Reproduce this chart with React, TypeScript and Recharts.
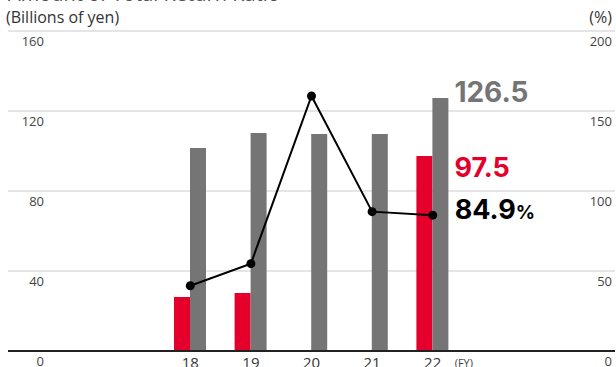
import { ComposedChart, Bar, Line, XAxis, YAxis, CartesianGrid, LabelList } from 'recharts';

const years = ['18', '19', '20', '21', '22'];
const dividends = [27, 29, null, null, 97.5];
const totalReturn = [101.5, 109, 108.5, 108.5, 126.5];
const returnRatio = [40.8, 54.6, 159.4, 87.1, 84.9];
const leftTicks = [0, 40, 80, 120, 160];
const rightTicks = [0, 50, 100, 150, 200];

const data = years.map((year, i) => ({
  year,
  dividends: dividends[i],
  totalReturn: totalReturn[i],
  returnRatio: returnRatio[i],
}));

const LAST = years.length - 1;
const TICK_FONT = '"Open Sans", sans-serif';
const BIG_FONT = 'Inter, sans-serif';

// only the last year gets a big value label
const isLast = (p: any, series: (number | null)[]) => p.value === series[LAST];

const leftTick = ({ y, payload }: any) => (
  <text x={44} y={y + 15} textAnchor="end" fontSize={13} fill="#444" fontFamily={TICK_FONT}>
    {payload.value}
  </text>
);

const rightTick = ({ y, payload }: any) => (
  <text x={612} y={y + 15} textAnchor="end" fontSize={13} fill="#444" fontFamily={TICK_FONT}>
    {payload.value}
  </text>
);

const xTick = ({ x, y, payload, index }: any) => (
  <g>
    <text x={x} y={y + 15} textAnchor="middle" fontSize={15} fill="#333" fontFamily={TICK_FONT}>
      {payload.value}
    </text>
    {index === LAST && (
      <text x={x + 22} y={y + 14} fontSize={11} fill="#444" fontFamily={TICK_FONT}>
        (FY)
      </text>
    )}
  </g>
);

export default function App() {
  return (
    <div style={{ position: 'absolute', left: 0, top: 0, width: 616, height: 367, overflow: 'hidden', background: '#fff' }}>
      <div style={{ position: 'absolute', left: 8, top: -20, fontFamily: TICK_FONT, fontSize: 20, color: '#555', whiteSpace: 'nowrap' }}>
        Amount of Total Return Ratio
      </div>
      <div style={{ position: 'absolute', left: 6, top: 6, fontFamily: TICK_FONT, fontSize: 16, color: '#333' }}>
        (Billions of yen)
      </div>
      <div style={{ position: 'absolute', right: 4, top: 6, fontFamily: TICK_FONT, fontSize: 16, color: '#333' }}>
        (%)
      </div>
      <div style={{ position: 'absolute', left: 0, top: 0 }}>
        <ComposedChart
          width={616}
          height={367}
          data={data}
          margin={{ top: 31, right: 0, bottom: 0, left: 7 }}
          barGap={0}
        >
          <CartesianGrid yAxisId="left" vertical={false} stroke="#ddd" strokeWidth={1.5} />
          <XAxis
            dataKey="year"
            height={16}
            padding={{ left: 152, right: 152 }}
            axisLine={{ stroke: '#222', strokeWidth: 2 }}
            tickLine={false}
            tickSize={0}
            tick={xTick}
            interval={0}
          />
          <YAxis
            yAxisId="left"
            width={1}
            domain={[0, 160]}
            ticks={leftTicks}
            interval={0}
            axisLine={false}
            tickLine={false}
            tick={leftTick}
          />
          <YAxis
            yAxisId="right"
            orientation="right"
            width={1}
            domain={[0, 200]}
            ticks={rightTicks}
            interval={0}
            axisLine={false}
            tickLine={false}
            tick={rightTick}
          />
          <Bar yAxisId="left" dataKey="dividends" fill="#e4002b" barSize={16} isAnimationActive={false}>
            <LabelList
              dataKey="dividends"
              content={(p: any) =>
                isLast(p, dividends) ? (
                  <text x={Number(p.x) + Number(p.width) * 2 + 6} y={Number(p.y) + 21} fontSize={27} fontWeight={700} fill="#e4002b" fontFamily={BIG_FONT}>
                    {p.value}
                  </text>
                ) : null
              }
            />
          </Bar>
          <Bar yAxisId="left" dataKey="totalReturn" fill="#757575" barSize={16} isAnimationActive={false}>
            <LabelList
              dataKey="totalReturn"
              content={(p: any) =>
                isLast(p, totalReturn) ? (
                  <text x={Number(p.x) + Number(p.width) + 6} y={Number(p.y) + 4} fontSize={28} fontWeight={700} fill="#757575" fontFamily={BIG_FONT}>
                    {p.value}
                  </text>
                ) : null
              }
            />
          </Bar>
          <Line
            yAxisId="right"
            type="linear"
            dataKey="returnRatio"
            stroke="#000"
            strokeWidth={2}
            dot={{ r: 4.5, fill: '#000', stroke: '#000', strokeWidth: 0 }}
            isAnimationActive={false}
          >
            <LabelList
              dataKey="returnRatio"
              content={(p: any) =>
                isLast(p, returnRatio) ? (
                  <text x={Number(p.x) + 22} y={Number(p.y) + 4} fontSize={27} fontWeight={700} fill="#000" fontFamily={BIG_FONT}>
                    {p.value}
                    <tspan fontSize={19}>%</tspan>
                  </text>
                ) : null
              }
            />
          </Line>
        </ComposedChart>
      </div>
    </div>
  );
}
